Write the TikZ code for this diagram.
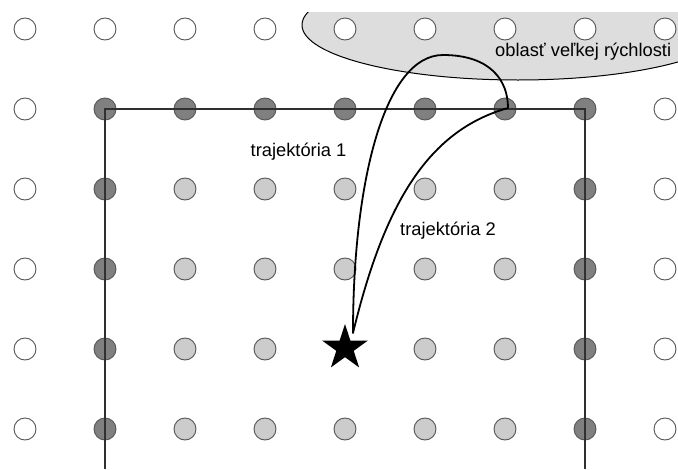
\documentclass[tikz,border=0pt]{standalone}
\usepackage{fontspec}
\setmainfont{Liberation Sans}
\usetikzlibrary{shapes.geometric}
\definecolor{dk}{HTML}{808080}
\definecolor{lt}{HTML}{CCCCCC}
\definecolor{el}{HTML}{DDDDDD}
\definecolor{ol}{HTML}{555555}
\definecolor{rl}{HTML}{303030}
\begin{document}
\begin{tikzpicture}[x=1pt,y=-1pt,
  dot/.style={circle,draw=ol,line width=0.9pt,minimum size=22pt,inner sep=0pt},
  outerdot/.style={dot,fill=white},
  edgedot/.style={dot,fill=dk},
  innerdot/.style={dot,fill=lt},
  lbl/.style={anchor=base west,inner sep=0pt,font=\fontsize{18.3}{21}\selectfont},
  traj/.style={line width=1.8pt,line join=round,line cap=round}]
\useasboundingbox (0,0) rectangle (678,469);
% high speed region
\begin{scope}
  \clip (0,12) rectangle (678,469);
  \filldraw[fill=el,draw=black,line width=1pt] (518,25) ellipse [x radius=216pt, y radius=55pt];
\end{scope}
% grid of points
\foreach \i in {0,...,8}{
  \node[outerdot] (c\i-0) at ({25+80*\i},29) {};
}
\foreach \j in {1,...,5}{
  \node[outerdot] (c0-\j) at (25,{29+80*\j}) {};
  \node[outerdot] (c8-\j) at (665,{29+80*\j}) {};
  \node[edgedot] (c1-\j) at (105,{29+80*\j}) {};
  \node[edgedot] (c7-\j) at (585,{29+80*\j}) {};
}
\foreach \i in {2,...,6}{
  \node[edgedot] (c\i-1) at ({25+80*\i},109) {};
}
\foreach \i in {2,...,6}{
  \foreach \j in {2,...,5}{
    \ifnum\i=4 \ifnum\j=4 \else
      \node[innerdot] (c\i-\j) at ({25+80*\i},{29+80*\j}) {};
    \fi\else
      \node[innerdot] (c\i-\j) at ({25+80*\i},{29+80*\j}) {};
    \fi
  }
}
% frame
\draw[rl,line width=1.2pt] (105,469) -- (105,109) -- (585,109) -- (585,469);
% labels
\node[lbl] (l1) at (250.5,156) {trajektória 1};
\node[lbl] (l2) at (400,235) {trajektória 2};
\node[lbl] (l3) at (495,56.5) {oblasť veľkej rýchlosti};
% start star
\node[star,star points=5,star point ratio=2.618,fill=black,minimum size=48pt,inner sep=0pt] (st) at (345,348) {};
% trajectories
\coordinate (s) at (353,333);
\coordinate (pk) at (443,55);
\coordinate (p) at (508,108);
\draw[traj] (s) .. controls (353,180) and (385,55) .. (pk)
  .. controls (490,55) and (508,80) .. (p)
  .. controls (430,130) and (385,200) .. (s);
\end{tikzpicture}
\end{document}
